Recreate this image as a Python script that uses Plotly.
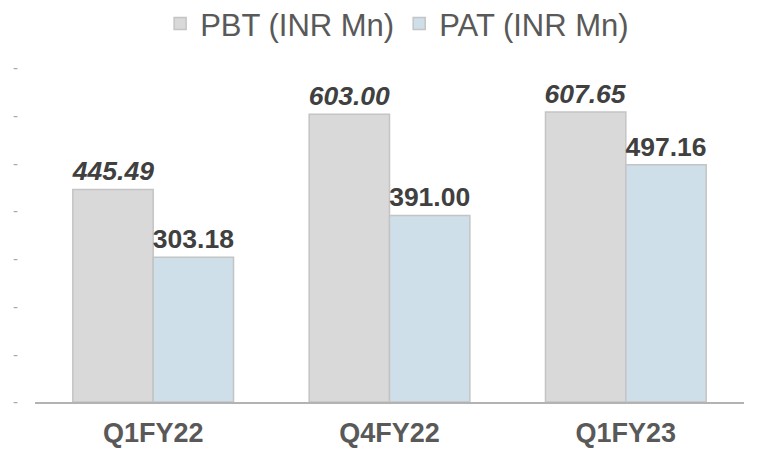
import plotly.graph_objects as go

categories = ["Q1FY22", "Q4FY22", "Q1FY23"]
pbt = [445.49, 603.00, 607.65]
pat = [303.18, 391.00, 497.16]
tick_vals = [0, 100, 200, 300, 400, 500, 600, 700]
tick_text = ["-"] * len(tick_vals)

FONT = "Liberation Sans, Arial, sans-serif"

fig = go.Figure()
fig.add_trace(go.Bar(
    name="PBT (INR Mn)", x=categories, y=pbt,
    marker=dict(color="#d9d9d9", line=dict(color="#c4c4c4", width=1.5)),
    text=[f"{v:.2f}" for v in pbt], textposition="outside",
    textfont=dict(family=FONT, size=26.5, color="#404040", weight="bold", style="italic"),
    constraintext="none", cliponaxis=False,
))
fig.add_trace(go.Bar(
    name="PAT (INR Mn)", x=categories, y=pat,
    marker=dict(color="#cfdfe9", line=dict(color="#c4c4c4", width=1.5)),
    text=[f"{v:.2f}" for v in pat], textposition="outside",
    textfont=dict(family=FONT, size=26.5, color="#404040", weight="bold"),
    constraintext="none", cliponaxis=False,
))

fig.update_layout(
    width=766, height=455,
    margin=dict(l=27, r=30, t=60, b=61, autoexpand=False),
    paper_bgcolor="white", plot_bgcolor="white",
    barmode="group", bargap=0.32, bargroupgap=0,
    font=dict(family=FONT, color="#595959"),
    showlegend=True,
    legend=dict(orientation="h", x=0.508, xanchor="center", xref="container",
                y=1.132, yanchor="middle", yref="paper",
                font=dict(family=FONT, size=31, color="#595959"),
                itemwidth=30, bgcolor="rgba(0,0,0,0)", borderwidth=0,
                tracegroupgap=0),
    xaxis=dict(showline=True, linecolor="#b3b3b3", linewidth=2, ticks="",
               tickfont=dict(family=FONT, size=27, color="#595959", weight="bold"),
               showgrid=False, zeroline=False, automargin=False, ticklabelstandoff=6),
    yaxis=dict(range=[0, 700], tickvals=tick_vals, ticktext=tick_text,
               tickfont=dict(family=FONT, size=15, color="#a6a6a6"),
               showgrid=False, zeroline=False, showline=False, ticklabelstandoff=16,
               automargin=False),
)

fig.write_html("out.html")
